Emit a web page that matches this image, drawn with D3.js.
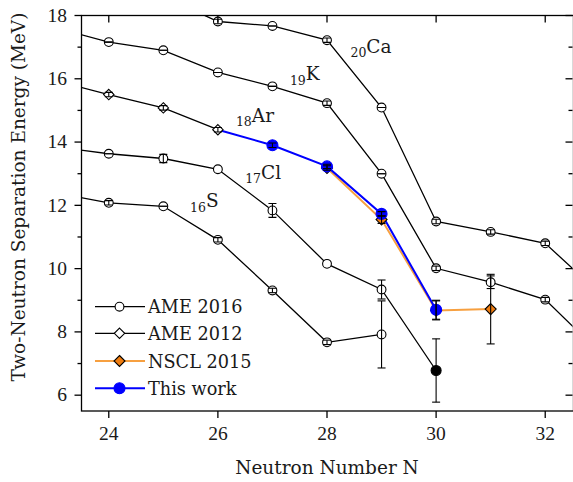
<!DOCTYPE html>
<html><head><meta charset="utf-8">
<script src="https://cdn.jsdelivr.net/npm/d3@7"></script>
<style>body{margin:0;background:#fff}svg{display:block}</style>
</head><body>
<svg id="c" width="573" height="482"></svg>
<script>
// ---- data (S2n in MeV vs neutron number N) ----
const caN = [25, 26, 27, 28, 29, 30, 31, 32, 33];
const caS = [18.6, 17.81, 17.67, 17.22, 15.09, 11.49, 11.16, 10.80, 9.21];
const caErr = [0, 0.07, 0, 0.07, 0, 0.07, 0.07, 0.07, 0];

const kN = [23, 24, 25, 26, 27, 28, 29, 30, 31, 32, 33];
const kS = [17.62, 17.16, 16.90, 16.20, 15.76, 15.23, 13.00, 10.01, 9.57, 9.02, 7.35];
const kErr = [0, 0, 0, 0, 0, 0.07, 0, 0.07, 0.2, 0.07, 0.07];

const clN = [23, 24, 25, 26, 27, 28, 29];
const clS = [13.86, 13.63, 13.48, 13.14, 11.84, 10.15, 9.34];
const clErr = [0, 0, 0.13, null, 0.22, null, 0.3];
const clExtN = [30];
const clExtS = [6.78];
const clExtErr = [1.0];

const sN = [23, 24, 25, 26, 27, 28, 29];
const sS = [12.40, 12.08, 11.97, 10.91, 9.31, 7.67, 7.92];
const sErr = [0, 0.07, 0, 0.07, 0.07, 0.07, 1.06];

const arN = [23, 24, 25, 26];
const arS = [15.95, 15.50, 15.08, 14.39];
const arErr = [0.07, 0.07, 0.07, 0.07];

const nsclN = [28, 29, 30, 31];
const nsclS = [13.18, 11.55, 8.68, 8.72];
const nsclErr = [0.07, 0.12, 0.3, 1.1];

const twN = [27, 28, 29, 30];
const twS = [13.90, 13.23, 11.73, 8.70];
const twErr = [0.07, 0.07, 0.07, 0.3];

const elemLabels = [
  {z: "20", sym: "Ca", n: 28.43, s: 16.83},
  {z: "19", sym: "K", n: 27.32, s: 15.96},
  {z: "18", sym: "Ar", n: 26.33, s: 14.64},
  {z: "17", sym: "Cl", n: 26.50, s: 12.84},
  {z: "16", sym: "S", n: 25.49, s: 11.94}
];
const legendLabels = ["AME 2016", "AME 2012", "NSCL 2015", "This work"];
const xTicks = [24, 26, 28, 30, 32];
const yTicks = [6, 8, 10, 12, 14, 16, 18];
const yMinor = [7, 9, 11, 13, 15, 17];

// ---- layout ----
const L = 81.5, R = 572.5, T = 15.5, B = 411;
const x = d3.scaleLinear().domain([23.5, 32.5]).range([L, R]);
const y = d3.scaleLinear().domain([5.5, 18]).range([B, T]);
const svg = d3.select("#c");
const serif = "'DejaVu Serif', serif";
const numFont = "'Liberation Serif', serif";
const ink = "#1a1a1a";

svg.append("defs").append("clipPath").attr("id", "clip")
  .append("rect").attr("x", L).attr("y", T).attr("width", R - L).attr("height", B - T);

const plot = svg.append("g").attr("clip-path", "url(#clip)");
const zip = (ns, ss, es) => ns.map((n, i) => ({n, s: ss[i], e: es ? es[i] : null}));
const line = d3.line().x(d => x(d.n)).y(d => y(d.s));

const ca = zip(caN, caS, caErr), k = zip(kN, kS, kErr), cl = zip(clN, clS, clErr);
const clExt = zip(clExtN, clExtS, clExtErr), s = zip(sN, sS, sErr), ar = zip(arN, arS, arErr);
const nscl = zip(nsclN, nsclS, nsclErr), tw = zip(twN, twS, twErr);

// black lines
[ca, k, cl.concat(clExt), s, ar].forEach(d => {
  plot.append("path").datum(d).attr("d", line).attr("fill", "none")
    .attr("stroke", "#000").attr("stroke-width", 1.3);
});
// orange & blue
const orangeLine = "#f7a040", orangeFill = "#f07d10", blue = "#0000ff";
plot.append("path").datum(nscl).attr("d", line).attr("fill", "none")
  .attr("stroke", orangeLine).attr("stroke-width", 2);
plot.append("path").datum([ar[ar.length - 1]].concat(tw)).attr("d", line).attr("fill", "none")
  .attr("stroke", blue).attr("stroke-width", 2);

const diamond = r => `M0,${-r}L${r},0L0,${r}L${-r},0Z`;
function errBars(g, data) {
  data.filter(d => d.e !== null && d.e !== undefined).forEach(d => {
    const cx = x(d.n), y1 = y(d.s + d.e), y2 = y(d.s - d.e);
    g.append("line").attr("x1", cx).attr("x2", cx).attr("y1", y1).attr("y2", y2)
      .attr("stroke", "#000").attr("stroke-width", 1.1);
    [y1, y2].forEach(yy => g.append("line").attr("x1", cx - 4).attr("x2", cx + 4)
      .attr("y1", yy).attr("y2", yy).attr("stroke", "#000").attr("stroke-width", 1.1));
  });
}
function circles(g, data, r, fill, stroke) {
  g.selectAll(null).data(data).enter().append("circle")
    .attr("cx", d => x(d.n)).attr("cy", d => y(d.s)).attr("r", r)
    .attr("fill", fill).attr("stroke", stroke).attr("stroke-width", 1.1);
}
function diamonds(g, data, r, fill) {
  g.selectAll(null).data(data).enter().append("path")
    .attr("transform", d => `translate(${x(d.n)},${y(d.s)})`).attr("d", diamond(r))
    .attr("fill", fill).attr("stroke", "#000").attr("stroke-width", 1.1);
}
[ca, k, cl, s].forEach(d => circles(plot, d, 4.4, "#fff", "#000"));
diamonds(plot, ar, 5.2, "#fff");
circles(plot, clExt, 5, "#000", "#000");
diamonds(plot, nscl, 5.5, orangeFill);
circles(plot, tw, 5.5, blue, blue);
[ca, k, cl, s, ar, clExt, nscl, tw].forEach(d => errBars(plot, d));

// element labels
elemLabels.forEach(l => {
  const t = svg.append("text").attr("x", x(l.n)).attr("y", y(l.s))
    .attr("font-family", serif).attr("font-size", 18.5).attr("fill", ink);
  t.append("tspan").text(l.z).attr("font-size", 12.5).attr("dy", 4.5);
  t.append("tspan").text(l.sym).attr("dy", -4.5);
});

// frame
const ax = svg.append("g").attr("stroke", "#000").attr("stroke-width", 1.3).attr("fill", "none");
ax.append("rect").attr("x", L).attr("y", T).attr("width", R - L + 1).attr("height", B - T);

// x ticks bottom (outward) and top (inward)
xTicks.forEach(v => {
  ax.append("line").attr("x1", x(v)).attr("x2", x(v)).attr("y1", B).attr("y2", B + 7);
  ax.append("line").attr("x1", x(v)).attr("x2", x(v)).attr("y1", T).attr("y2", T + 7);
  svg.append("text").attr("x", x(v)).attr("y", B + 28.5).attr("text-anchor", "middle")
    .attr("font-family", numFont).attr("font-size", 19.5).attr("fill", ink).text(v);
});
yTicks.forEach(v => {
  ax.append("line").attr("x1", L - 7).attr("x2", L).attr("y1", y(v)).attr("y2", y(v));
  ax.append("line").attr("x1", R - 7).attr("x2", R).attr("y1", y(v)).attr("y2", y(v));
  svg.append("text").attr("x", 67).attr("y", y(v) + 6.3).attr("text-anchor", "end")
    .attr("font-family", numFont).attr("font-size", 19.5).attr("fill", ink).text(v);
});
yMinor.forEach(v => {
  ax.append("line").attr("x1", L - 4).attr("x2", L).attr("y1", y(v)).attr("y2", y(v));
  ax.append("line").attr("x1", R - 4).attr("x2", R).attr("y1", y(v)).attr("y2", y(v));
});

// axis titles
svg.append("text").attr("x", (L + R) / 2 + 0).attr("y", 474).attr("text-anchor", "middle")
  .attr("font-family", serif).attr("font-size", 18.5).attr("fill", ink).text("Neutron Number N");
svg.append("text").attr("transform", "translate(25,197) rotate(-90)").attr("text-anchor", "middle")
  .attr("font-family", serif).attr("font-size", 18.5).attr("fill", ink)
  .text("Two-Neutron Separation Energy (MeV)");

// legend
const lg = svg.append("g");
const rowY = [306.7, 333.3, 361, 388.3];
const lx0 = 95, lx1 = 145, lxm = 119.5;
legendLabels.forEach((lab, i) => {
  const col = i === 2 ? orangeLine : i === 3 ? blue : "#000";
  lg.append("line").attr("x1", lx0).attr("x2", lx1).attr("y1", rowY[i]).attr("y2", rowY[i])
    .attr("stroke", col).attr("stroke-width", i >= 2 ? 2 : 1.3);
  const pt = [{n: x.invert(lxm), s: y.invert(rowY[i]), e: null}];
  if (i === 0) circles(lg, pt, 4.4, "#fff", "#000");
  if (i === 1) diamonds(lg, pt, 5.2, "#fff");
  if (i === 2) diamonds(lg, pt, 5.5, orangeFill);
  if (i === 3) circles(lg, pt, 5.5, blue, blue);
  lg.append("text").attr("x", 148).attr("y", rowY[i] + 6.5)
    .attr("font-family", serif).attr("font-size", 17.7).attr("fill", ink).text(lab);
});
</script>
</body></html>
